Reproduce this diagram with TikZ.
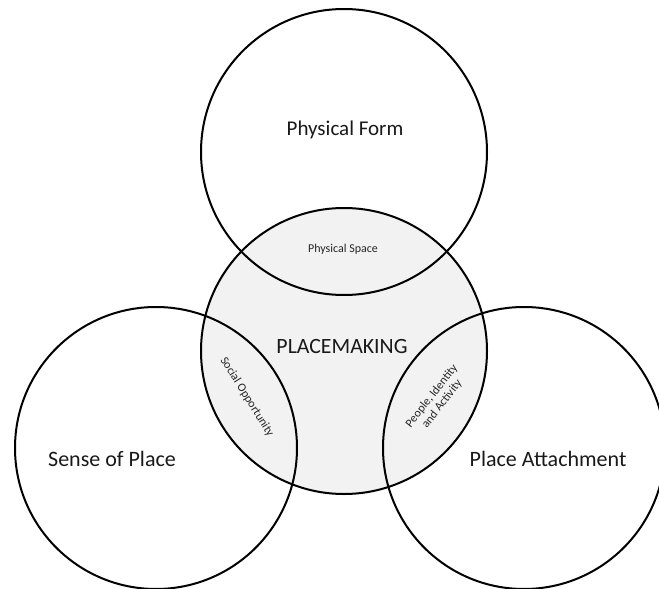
\documentclass[tikz,border=0pt]{standalone}
\usepackage{fontspec}
\setmainfont{Carlito}
\begin{document}
\begin{tikzpicture}[x=1pt,y=-1pt,
  ring/.style={circle, draw=black, line width=2pt, inner sep=0pt},
  bigtext/.style={font=\fontsize{22}{26}\selectfont, text=black!90},
  smalltext/.style={font=\fontsize{12}{13}\selectfont, text=black!85, align=center}]
\useasboundingbox (0,0) rectangle (659,589);
% central circle
\node[ring, fill=black!5, minimum size=286pt] (pm) at (344,351) {};
% outer circles
\node[ring, minimum size=286pt] (pf) at (344,152) {};
\node[ring, minimum size=282pt] (sp) at (156,448) {};
\node[ring, minimum size=282pt] (pa) at (524,448) {};
% labels
\node[bigtext, font=\fontsize{21}{25}\selectfont] (tpf) at (345,130) {Physical Form};
\node[bigtext] (tsp) at (112,459) {Sense of Place};
\node[bigtext] (tpa) at (548,459) {Place Attachment};
\node[font=\fontsize{21.8}{26}\selectfont, text=black!90] (tpm) at (342,346) {PLACEMAKING};
\node[smalltext] (tps) at (343,249) {Physical Space};
\node[smalltext, rotate=-58] (tso) at (247,397) {Social Opportunity};
\node[smalltext, rotate=52] (tpi) at (437,400) {People, Identity\\and Activity};
\end{tikzpicture}
\end{document}
